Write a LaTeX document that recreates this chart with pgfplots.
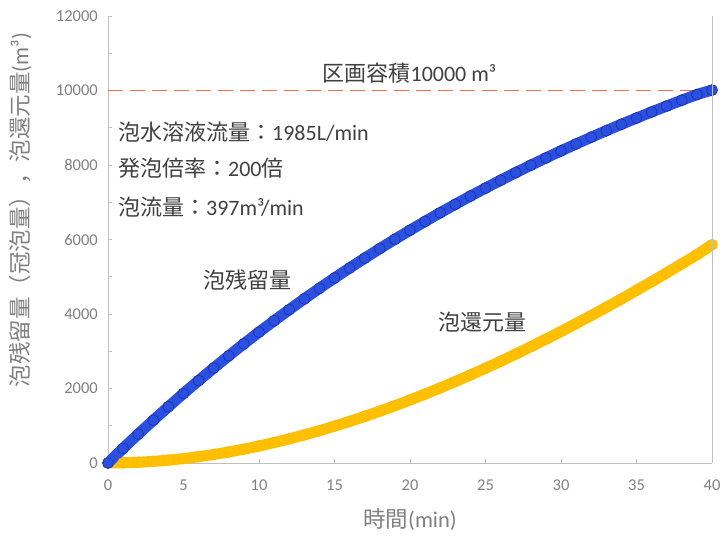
\documentclass[border=0pt]{standalone}
\usepackage{pgfplots}
\pgfplotsset{compat=1.18}
\usepackage{pgfplotstable}
\usepackage{fontspec}
\setmainfont{Carlito}
\newfontfamily\cjk{Noto Sans CJK JP}
\definecolor{blueC}{RGB}{43,80,224}
\definecolor{blueD}{RGB}{26,50,170}
\definecolor{goldC}{RGB}{255,192,0}
\definecolor{dashC}{RGB}{240,112,72}
\definecolor{axisC}{RGB}{191,191,191}
\definecolor{tickT}{RGB}{128,128,128}
\definecolor{annT}{RGB}{64,64,64}

\pgfplotstableread{
t v
0 0
1 392
2 775
3 1147
4 1511
5 1866
6 2212
7 2549
8 2879
9 3200
10 3513
11 3818
12 4116
13 4406
14 4690
15 4966
16 5235
17 5498
18 5755
19 6005
20 6248
21 6486
22 6718
23 6944
24 7165
25 7380
26 7590
27 7795
28 7994
29 8189
30 8379
31 8564
32 8745
33 8921
34 9093
35 9260
36 9424
37 9583
38 9739
39 9890
40 10010
}\remain

\pgfplotstableread{
t v
0 0
1 5
2 20
3 44
4 77
5 119
6 170
7 230
8 297
9 373
10 457
11 549
12 648
13 755
14 868
15 989
16 1117
17 1251
18 1392
19 1539
20 1692
21 1851
22 2016
23 2187
24 2363
25 2545
26 2732
27 2924
28 3122
29 3324
30 3531
31 3743
32 3959
33 4180
34 4405
35 4635
36 4868
37 5106
38 5348
39 5593
40 5860
}\reduce

\begin{document}
\begin{tikzpicture}
\begin{axis}[
  at={(0,0)}, anchor=south west,
  width=604pt, height=447pt, scale only axis,
  xmin=0, xmax=40, ymin=0, ymax=12000,
  xtick={0,5,...,40}, ytick={0,2000,...,12000},
  minor y tick num=1,
  axis x line*=bottom, axis y line*=left,
  axis line style={draw=axisC, line width=0.9pt, -},
  tick style={draw=axisC, line width=0.9pt},
  tick align=inside,
  major tick length=4pt, minor tick length=4pt,
  scaled y ticks=false,
  /pgf/number format/assume math mode=true,
  /pgf/number format/1000 sep={},
  ticklabel style={font=\fontsize{16.5}{18}\selectfont, text=tickT, inner sep=0pt},
  yticklabel style={xshift=-10pt},
  xticklabel style={yshift=-17pt},
  label style={font=\fontsize{22.5}{26}\selectfont, text=tickT},
  xlabel={{\cjk 時間}(min)},
  ylabel={{\cjk 泡残留量（冠泡量），泡還元量}(m³)},
  xlabel style={at={(axis description cs:0.5,-0.127)}, anchor=center},
  ylabel style={at={(axis description cs:-0.1457,0.566)}, anchor=center},
  clip=false,
]
\addplot[dashC, line width=1.7pt, dash pattern=on 15pt off 7pt] coordinates {(0,10000) (40,10000)};

\addplot[goldC, line width=11pt, smooth, line cap=round] table[x=t, y=v] {\reduce};
\addplot[only marks, mark=*, mark size=5.5pt, mark options={fill=goldC, draw=goldC!85!orange, line width=0.4pt}] table[x=t, y=v] {\reduce};

\addplot[blueC, line width=11pt, smooth, line cap=round] table[x=t, y=v] {\remain};
\addplot[only marks, mark=*, mark size=5.5pt, mark options={fill=blueC, draw=blueD, line width=0.7pt}] table[x=t, y=v] {\remain};

\node[anchor=west, font=\fontsize{22}{26}\selectfont, text=annT, inner sep=0pt] at (axis cs:14.2,10470) {{\cjk 区画容積}10000 m³};
\node[anchor=west, font=\fontsize{22}{26}\selectfont, text=annT, inner sep=0pt] at (axis cs:0.66,8886) {{\cjk 泡水溶液流量：}1985L/min};
\node[anchor=west, font=\fontsize{22}{26}\selectfont, text=annT, inner sep=0pt] at (axis cs:0.66,7919) {{\cjk 発泡倍率：}200{\cjk 倍}};
\node[anchor=west, font=\fontsize{22}{26}\selectfont, text=annT, inner sep=0pt] at (axis cs:0.66,6872) {{\cjk 泡流量：}397m³/min};
\node[anchor=center, font=\fontsize{22}{26}\selectfont, text=annT, inner sep=0pt] at (axis cs:9.27,4913) {\cjk 泡残留量};
\node[anchor=center, font=\fontsize{22}{26}\selectfont, text=annT, inner sep=0pt] at (axis cs:24.83,3785) {\cjk 泡還元量};
\end{axis}
\draw[axisC, line width=0.9pt] (604pt,0pt) -- (604pt,447pt);
\pgfresetboundingbox
\path[use as bounding box] (-108pt,-75pt) rectangle (616pt,463pt);
\end{tikzpicture}
\end{document}
